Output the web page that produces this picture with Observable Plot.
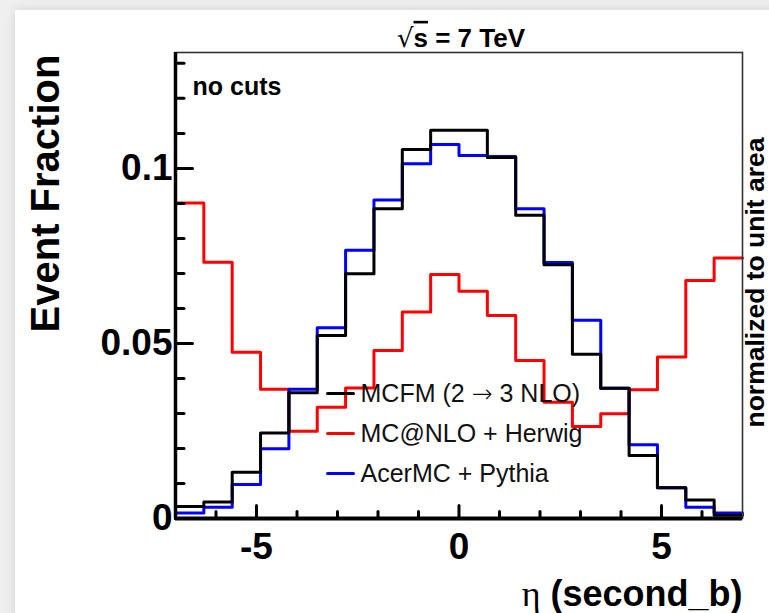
<!DOCTYPE html>
<html>
<head>
<meta charset="utf-8">
<script src="https://cdn.jsdelivr.net/npm/d3@7"></script>
<script src="https://cdn.jsdelivr.net/npm/@observablehq/plot@0.6"></script>
<style>
  html, body { margin: 0; padding: 0; }
  body { width: 769px; height: 613px; background: #efefef; position: relative; overflow: hidden; }
  #card { position: absolute; left: 15px; top: 10px; right: -20px; bottom: -20px; background: #fff; box-shadow: 0 0 10px rgba(0,0,0,0.12); }
  #chart { position: absolute; left: 0; top: 0; }
  #chart svg { background: transparent !important; }
</style>
</head>
<body>
<div id="card"></div>
<div id="chart"></div>
<script>
// ---- data ----
const binEdges = [-7, -6.3, -5.6, -4.9, -4.2, -3.5, -2.8, -2.1, -1.4, -0.7, 0, 0.7, 1.4, 2.1, 2.8, 3.5, 4.2, 4.9, 5.6, 6.3];
const xMax = 7;
const mcfm  = [0.0034, 0.0047, 0.0132, 0.0244, 0.0359, 0.0523, 0.0699, 0.0885, 0.1054, 0.1109, 0.1109, 0.1031, 0.0866, 0.0725, 0.0469, 0.0372, 0.0180, 0.0088, 0.0053, 0.0009];
const mcnlo = [0.0901, 0.0732, 0.0475, 0.0369, 0.0249, 0.0318, 0.0373, 0.0480, 0.0590, 0.0697, 0.0649, 0.0580, 0.0451, 0.0332, 0.0263, 0.0299, 0.0368, 0.0461, 0.0680, 0.0744];
const acer  = [0.0016, 0.0032, 0.0097, 0.0199, 0.0369, 0.0545, 0.0766, 0.0910, 0.1013, 0.1068, 0.1037, 0.1034, 0.0885, 0.0731, 0.0566, 0.0372, 0.0211, 0.0088, 0.0032, 0.0016];
const seriesNames = ["MCFM (2 \u2192 3 NLO)", "MC@NLO + Herwig", "AcerMC + Pythia"];
const seriesColors = ["#000000", "#ff0000", "#0000ff"];
const xTickLabels = ["-5", "0", "5"];
const xMajorTicks = [-5, 0, 5];
const xMinorTicks = [-6, -4, -3, -2, -1, 1, 2, 3, 4, 6];
const yTickLabels = ["0", "0.05", "0.1"];
const yMajorTicks = [0, 0.05, 0.1];
const yMinorTicks = [0.01, 0.02, 0.03, 0.04, 0.06, 0.07, 0.08, 0.09, 0.11, 0.12, 0.13];
const yMax = 0.1331;

// ---- build step tables ----
function steps(vals) {
  const pts = [{x: binEdges[0], y: 0}];
  vals.forEach((v, i) => pts.push({x: binEdges[i], y: v}));
  pts.push({x: xMax, y: vals[vals.length - 1]});
  return pts;
}
const tickShape = {draw(ctx, l) { ctx.moveTo(0, 0); ctx.lineTo(0, -l); }};
const font = "'Liberation Sans', Arial, Helvetica, sans-serif";

const legendMarks = seriesNames.flatMap((name, i) => [
  Plot.vector([name], {frameAnchor: "top-left", dx: 152, dy: 341 + 40 * i, rotate: 90, length: 26, anchor: "start",
    shape: tickShape, stroke: seriesColors[i], strokeWidth: 3}),
  Plot.text([name], {frameAnchor: "top-left", dx: 185, dy: 341 + 40 * i, text: d => d, textAnchor: "start",
    lineAnchor: "middle", fontSize: 25, fill: "#111"})
]);

const chart = Plot.plot({
  width: 769,
  height: 613,
  marginTop: 52,
  marginLeft: 175,
  marginRight: 27,
  marginBottom: 95,
  style: {fontFamily: font, background: "transparent", overflow: "visible"},
  x: {domain: [-7, 7], axis: null},
  y: {domain: [0, yMax], axis: null},
  marks: [
    Plot.line(steps(mcnlo), {x: "x", y: "y", curve: "step-after", stroke: seriesColors[1], strokeWidth: 3}),
    Plot.line(steps(acer), {x: "x", y: "y", curve: "step-after", stroke: seriesColors[2], strokeWidth: 3}),
    Plot.line(steps(mcfm), {x: "x", y: "y", curve: "step-after", stroke: seriesColors[0], strokeWidth: 3}),
    Plot.frame({stroke: "#333", strokeWidth: 1.6}),
    Plot.ruleX([-7], {stroke: "black", strokeWidth: 3.5}),
    Plot.ruleY([0], {stroke: "black", strokeWidth: 4}),
    // ticks
    Plot.vector(xMajorTicks, {x: d => d, frameAnchor: "bottom", length: 13, anchor: "start", shape: tickShape, stroke: "black", strokeWidth: 3}),
    Plot.vector(xMinorTicks, {x: d => d, frameAnchor: "bottom", length: 7, anchor: "start", shape: tickShape, stroke: "black", strokeWidth: 3}),
    Plot.vector(yMajorTicks, {y: d => d, frameAnchor: "left", rotate: 90, length: 17, anchor: "start", shape: tickShape, stroke: "black", strokeWidth: 3}),
    Plot.vector(yMinorTicks, {y: d => d, frameAnchor: "left", rotate: 90, length: 8.5, anchor: "start", shape: tickShape, stroke: "black", strokeWidth: 3}),
    // tick labels
    Plot.text(yMajorTicks, {y: d => d, frameAnchor: "left", text: (d, i) => yTickLabels[i], textAnchor: "end", lineAnchor: "middle", dx: -3, fontSize: 37, fontWeight: "bold", fill: "black"}),
    Plot.text(xMajorTicks, {x: d => d, frameAnchor: "bottom", text: (d, i) => xTickLabels[i], textAnchor: "middle", lineAnchor: "middle", dy: 29, fontSize: 37, fontWeight: "bold", fill: "black"}),
    // axis titles and annotations
    Plot.text(["Event Fraction"], {frameAnchor: "left", text: d => d, rotate: -90, textAnchor: "middle", dx: -129, dy: -92, lineAnchor: "middle", fontSize: 40, fontWeight: "bold", fill: "black"}),
    Plot.text(["normalized to unit area"], {frameAnchor: "right", text: d => d, rotate: -90, textAnchor: "middle", dx: 13, dy: -3, lineAnchor: "middle", fontSize: 26.5, fontWeight: "bold", fill: "black"}),
    Plot.text(["\u03b7 (second_b)"], {frameAnchor: "bottom-right", text: d => d, textAnchor: "end", lineAnchor: "bottom", dy: 87, fontSize: 36, fontWeight: "bold", fill: "black"}),
    Plot.text(["\u221as = 7 TeV"], {frameAnchor: "top", text: d => d, textAnchor: "middle", dx: 2, dy: -14, lineAnchor: "middle", fontSize: 26, fontWeight: "bold", fill: "black"}),
    Plot.text(["no cuts"], {frameAnchor: "top-left", text: d => d, textAnchor: "start", lineAnchor: "middle", dx: 17, dy: 34, fontSize: 25, fontWeight: "bold", fill: "black"}),
    ...legendMarks
  ]
});
document.getElementById("chart").appendChild(chart);

// typographic touches: radical with overline, wider arrow, greek eta in serif
const svg = d3.select(chart);
svg.selectAll("text").each(function() {
  const t = d3.select(this);
  const s = t.text();
  if (s === "\u221as = 7 TeV") {
    t.text("");
    t.append("tspan").attr("font-weight", "normal").attr("font-family", "'DejaVu Sans', sans-serif").text("\u221a");
    t.append("tspan").style("text-decoration", "overline").text("s");
    t.append("tspan").text(" = 7 TeV");
  } else if (s === "\u03b7 (second_b)") {
    t.text("");
    t.append("tspan").attr("font-weight", "normal").attr("font-family", "'Liberation Serif', 'Times New Roman', serif").text("\u03b7");
    t.append("tspan").text(" (second_b)");
  } else if (s === "MCFM (2 \u2192 3 NLO)") {
    t.text("");
    t.append("tspan").text("MCFM (2 ");
    t.append("tspan").attr("font-family", "'DejaVu Sans', sans-serif").attr("font-weight", "200").text("\u2192");
    t.append("tspan").text(" 3 NLO)");
  }
});
</script>
</body>
</html>
